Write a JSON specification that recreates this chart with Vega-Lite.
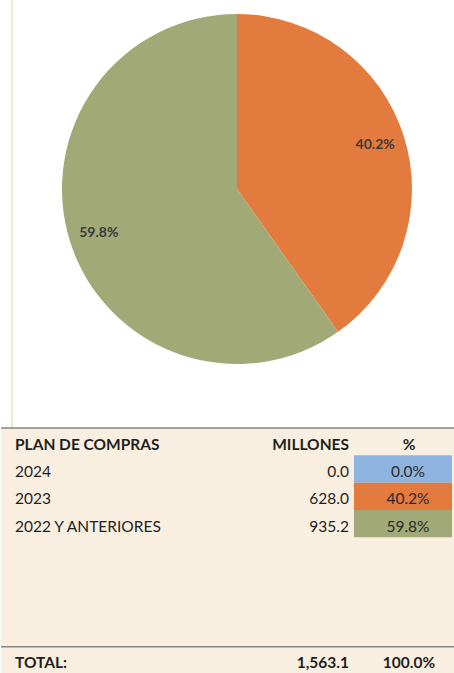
{
  "$schema": "https://vega.github.io/schema/vega-lite/v6.json",
  "padding": 0,
  "background": "white",
  "spacing": 0,
  "config": {
    "view": {"stroke": null},
    "concat": {"spacing": 0},
    "text": {"font": "Lato"}
  },
  "datasets": {
    "plan": [
      {"plan": "2024", "millones": 0.0, "pct": 0.0, "label": "0.0%"},
      {"plan": "2023", "millones": 628.0, "pct": 40.2, "label": "40.2%"},
      {"plan": "2022 Y ANTERIORES", "millones": 935.2, "pct": 59.8, "label": "59.8%"}
    ],
    "cells": [
      {"row": "h", "col": "label", "text": "PLAN DE COMPRAS"},
      {"row": "h", "col": "mill", "text": "MILLONES"},
      {"row": "h", "col": "pct", "text": "%"},
      {"row": "r1", "col": "label", "text": "2024"},
      {"row": "r1", "col": "mill", "text": "0.0"},
      {"row": "r1", "col": "pct", "text": "0.0%", "plan": "2024"},
      {"row": "r2", "col": "label", "text": "2023"},
      {"row": "r2", "col": "mill", "text": "628.0"},
      {"row": "r2", "col": "pct", "text": "40.2%", "plan": "2023"},
      {"row": "r3", "col": "label", "text": "2022 Y ANTERIORES"},
      {"row": "r3", "col": "mill", "text": "935.2"},
      {"row": "r3", "col": "pct", "text": "59.8%", "plan": "2022 Y ANTERIORES"},
      {"row": "t", "col": "label", "text": "TOTAL:"},
      {"row": "t", "col": "mill", "text": "1,563.1"},
      {"row": "t", "col": "pct", "text": "100.0%"}
    ],
    "lines": [{"row": "h"}, {"row": "t"}]
  },
  "vconcat": [
    {
      "hconcat": [
        {"width": 10, "height": 427, "data": {"values": [{}]}, "mark": {"type": "text", "text": ""}},
        {"width": 2, "height": 427, "view": {"fill": "#EFE9D2", "stroke": null}, "data": {"values": [{}]}, "mark": {"type": "text", "text": ""}},
        {"width": 6, "height": 427, "data": {"values": [{}]}, "mark": {"type": "text", "text": ""}},
        {
          "width": 436,
          "height": 378,
          "data": {"name": "plan"},
          "encoding": {
            "theta": {"field": "pct", "type": "quantitative", "stack": true},
            "order": {"field": "pct", "sort": "ascending"}
          },
          "layer": [
            {
              "mark": {"type": "arc", "radius": 175},
              "encoding": {
                "color": {
                  "field": "plan", "type": "nominal", "legend": null,
                  "scale": {"domain": ["2024", "2023", "2022 Y ANTERIORES"], "range": ["#8DB3DF", "#E47B3E", "#A1A977"]}
                }
              }
            },
            {
              "transform": [{"filter": "datum.pct > 0"}],
              "mark": {"type": "text", "radius": 145, "fontSize": 14, "fontWeight": "bold", "fill": "#3A3A3A"},
              "encoding": {"text": {"field": "label"}}
            }
          ]
        }
      ]
    },
    {
      "width": 454,
      "height": 246,
      "view": {"fill": "#F9EFE0", "stroke": null},
      "encoding": {
        "y": {
          "field": "row", "type": "nominal", "axis": null,
          "scale": {"domain": ["h", "r1", "r2", "r3", "b1", "b2", "b3", "b4", "t"], "paddingInner": 0, "paddingOuter": 0}
        },
        "x": {"field": "col", "type": "nominal", "axis": null,
              "scale": {"domain": ["label", "c2", "mill", "pct"], "range": [0, 451], "paddingInner": 0, "paddingOuter": 0.301, "align": 1}}
      },
      "layer": [
        {
          "data": {"name": "cells"},
          "transform": [{"filter": "isValid(datum.plan)"}],
          "mark": {"type": "rect"},
          "encoding": {
            "color": {
              "field": "plan", "type": "nominal", "legend": null,
              "scale": {"domain": ["2024", "2023", "2022 Y ANTERIORES"], "range": ["#8DB3DF", "#E8793B", "#A2AB7C"]}
            }
          }
        },
        {
          "data": {"name": "lines"},
          "mark": {"type": "rule", "stroke": "#858585", "strokeWidth": 1.5},
          "encoding": {"x": null, "y": {"field": "row", "type": "nominal", "bandPosition": 0}}
        },
        {
          "data": {"name": "cells"},
          "transform": [{"filter": "datum.col == 'label' && (datum.row == 'h' || datum.row == 't')"}],
          "mark": {"type": "text", "align": "left", "dx": -45, "dy": 3, "fontSize": 15.5, "fontWeight": "bold", "fill": "#1F1F1F"},
          "encoding": {
            "x": {"field": "col", "type": "nominal", "bandPosition": 0},
            "text": {"field": "text"}
          }
        },
        {
          "data": {"name": "cells"},
          "transform": [{"filter": "datum.col == 'label' && datum.row != 'h' && datum.row != 't'"}],
          "mark": {"type": "text", "align": "left", "dx": -45, "dy": 3, "fontSize": 15.5, "fill": "#1F1F1F"},
          "encoding": {
            "x": {"field": "col", "type": "nominal", "bandPosition": 0},
            "text": {"field": "text"}
          }
        },
        {
          "data": {"name": "cells"},
          "transform": [{"filter": "datum.col == 'mill' && (datum.row == 'h' || datum.row == 't')"}],
          "mark": {"type": "text", "align": "right", "dx": -5, "dy": 3, "fontSize": 15.5, "fontWeight": "bold", "fill": "#1F1F1F"},
          "encoding": {
            "x": {"field": "col", "type": "nominal", "bandPosition": 1},
            "text": {"field": "text"}
          }
        },
        {
          "data": {"name": "cells"},
          "transform": [{"filter": "datum.col == 'mill' && datum.row != 'h' && datum.row != 't'"}],
          "mark": {"type": "text", "align": "right", "dx": -5, "dy": 3, "fontSize": 15.5, "fill": "#1F1F1F"},
          "encoding": {
            "x": {"field": "col", "type": "nominal", "bandPosition": 1},
            "text": {"field": "text"}
          }
        },
        {
          "data": {"name": "cells"},
          "transform": [{"filter": "datum.col == 'pct' && (datum.row == 'h' || datum.row == 't')"}],
          "mark": {"type": "text", "align": "center", "dx": 6, "dy": 3, "fontSize": 15.5, "fontWeight": "bold", "fill": "#1F1F1F"},
          "encoding": {
            "x": {"field": "col", "type": "nominal", "bandPosition": 0.5},
            "text": {"field": "text"}
          }
        },
        {
          "data": {"name": "cells"},
          "transform": [{"filter": "datum.col == 'pct' && datum.row != 'h' && datum.row != 't'"}],
          "mark": {"type": "text", "align": "center", "dx": 5, "dy": 3, "fontSize": 15.5, "fill": "#2A2A2A"},
          "encoding": {
            "x": {"field": "col", "type": "nominal", "bandPosition": 0.5},
            "text": {"field": "text"}
          }
        }
      ]
    }
  ]
}
